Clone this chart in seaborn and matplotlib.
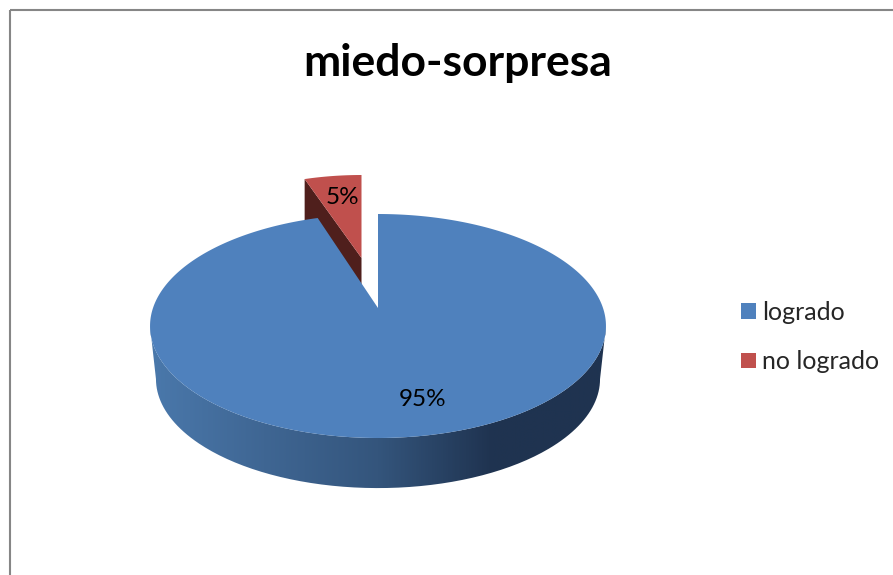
import numpy as np
import seaborn as sns
import matplotlib.pyplot as plt
from matplotlib.colors import LinearSegmentedColormap
from matplotlib.patches import Patch, PathPatch, Rectangle
from matplotlib.path import Path

title = "miedo-sorpresa"
labels = ["logrado", "no logrado"]
values = [95, 5]
colors = ["#4f81bd", "#c0504d"]
label_xy = [(423, 400), (342, 198)]

sns.set_theme(style="white")
plt.rcParams["font.family"] = ["Lato", "DejaVu Sans"]

# tilted disc, drawn in pixel units
APEX = (378, 308)
KEEP = 0.1607
A, B = 109.1, 225.0
RED_APEX = (361.5, 258)
RED_A, RED_B = 83.0, 184.0
RED_DEPTH = 27
DEPTH = 53
BOTTOM_SCALE = 0.974


def project(theta, scale=1.0, drop=0.0):
    x, y = np.cos(theta), np.sin(theta)
    w = 1 + KEEP * y
    return (APEX[0] + scale * B * x / w,
            APEX[1] + drop + 18 * (1 - scale) - scale * A * y / w)


fig, ax = plt.subplots(figsize=(8.93, 5.75), dpi=100)
fig.subplots_adjust(0, 0, 1, 1)
ax.set_xlim(0, 893)
ax.set_ylim(575, 0)
ax.axis("off")

ax.add_patch(Rectangle((9.5, 9.5), 900, 600, fc="none", ec="#868686", lw=1.5, zorder=1))

# slice angles, clockwise from twelve o'clock
sweep = np.radians(np.array(values) / sum(values) * 360)
blue_start = np.pi / 2
blue_end = blue_start - sweep[0]
red_end = blue_end - sweep[1]

# red slice, pulled out of the disc
t = np.linspace(blue_end, red_end, 30)
rx = RED_APEX[0] + RED_B * np.cos(t)
ry = RED_APEX[1] - RED_A * np.sin(t)
left = (rx[0], ry[0])
ax.fill([left[0], RED_APEX[0], RED_APEX[0], left[0]],
        [left[1], RED_APEX[1], RED_APEX[1] + RED_DEPTH, left[1] + RED_DEPTH + 15],
        color="#4f1f1c", lw=0, zorder=2)
ax.fill(np.r_[RED_APEX[0], rx], np.r_[RED_APEX[1], ry], color=colors[1], lw=0, zorder=3)

# front wall of the blue slice with its shading
start = np.pi + np.arcsin(KEEP)
stop = 2 * np.pi - np.arcsin(KEEP)
t = np.linspace(start, stop, 200)
x_top, y_top = project(t)
x_bot, y_bot = project(t, BOTTOM_SCALE, DEPTH)
wall = Path(np.c_[np.r_[x_top, x_bot[::-1]], np.r_[y_top, y_bot[::-1]]])
shade = LinearSegmentedColormap.from_list(
    "wall",
    [(0, "#4a78ab"), (0.25, "#3f6693"), (0.5, "#34557c"), (0.75, "#1f3350"), (1, "#1f3450")],
)
img = ax.imshow(np.linspace(0, 1, 460)[None, :], extent=(150, 607, 500, 320),
                cmap=shade, aspect="auto", zorder=4)
patch = PathPatch(wall, fc="none", ec="none", transform=ax.transData)
ax.add_patch(patch)
img.set_clip_path(patch)
ax.set_xlim(0, 893)
ax.set_ylim(575, 0)

# blue slice top
t = np.linspace(blue_start, blue_end, 400)
bx, by = project(t)
ax.fill(np.r_[APEX[0], bx], np.r_[APEX[1], by], color=colors[0], lw=0, zorder=5)

for value, (x, y) in zip(values, label_xy):
    ax.text(x, y, f"{value}%", ha="center", va="center", fontsize=17.5, color="black", zorder=6)

ax.text(458, 63, title, ha="center", va="center", fontsize=32, fontweight="bold", color="black")

handles = [Patch(fc=c, ec="none", label=l) for c, l in zip(colors, labels)]
ax.legend(handles=handles, loc="upper left", bbox_to_anchor=(741 / 893, 1 - 301 / 575),
          frameon=False, fontsize=18, handlelength=0.6, handleheight=0.6,
          handletextpad=0.24, labelspacing=1.05, borderpad=0, borderaxespad=0)

fig.savefig("out.png", dpi=100)
